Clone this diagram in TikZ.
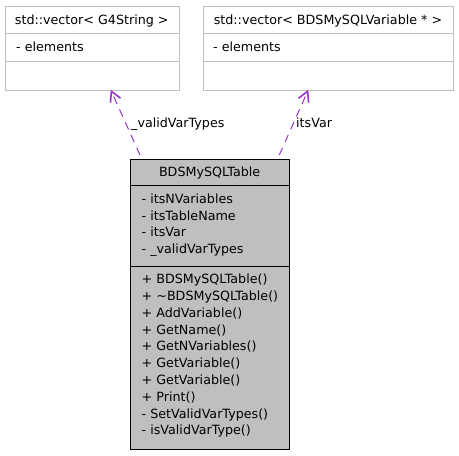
\documentclass[tikz,border=0pt]{standalone}
\usepackage{fontspec}
\setmainfont{DejaVu Sans}
\usetikzlibrary{arrows.meta}
\definecolor{boxgray}{HTML}{BFBFBF}
\definecolor{linegray}{HTML}{BFBFBF}
\definecolor{arrowpurple}{HTML}{9A32CD}
\tikzset{
  txt/.style={font=\fontsize{12.7}{14}\selectfont, inner sep=0pt, anchor=base west},
  ctxt/.style={font=\fontsize{12.7}{14}\selectfont, inner sep=0pt, anchor=base},
  gbox/.style={draw=linegray, fill=white, line width=1.2pt},
  mbox/.style={draw=black, fill=boxgray, line width=1pt},
  assoc/.style={draw=arrowpurple, dashed, dash pattern=on 8pt off 6pt, line width=1pt,
    -{Straight Barb[length=10pt,width=11pt,line width=1.6pt]}},
}
\begin{document}
\begin{tikzpicture}[x=1pt,y=-1pt]
\useasboundingbox (0,0) rectangle (459,456);
% left top box
\node[gbox, minimum width=173.5pt, minimum height=83.5pt, anchor=north west, inner sep=0pt] (vg) at (5,6) {};
\draw[draw=linegray, line width=1.2pt] (5,33.5) -- (178.5,33.5) (5,61.5) -- (178.5,61.5);
\node[ctxt] (vgt) at (91.75,24) {std::vector< G4String >};
\node[txt] (vge) at (16,51) {- elements};
% right top box
\node[gbox, minimum width=250pt, minimum height=83.5pt, anchor=north west, inner sep=0pt] (vb) at (203,6) {};
\draw[draw=linegray, line width=1.2pt] (203,33.5) -- (453,33.5) (203,61.5) -- (453,61.5);
\node[ctxt] (vbt) at (328,24) {std::vector< BDSMySQLVariable * >};
\node[txt] (vbe) at (213,51) {- elements};
% main box
\node[mbox, minimum width=159.3pt, minimum height=290pt, anchor=north west, inner sep=0pt] (mt) at (130,159) {};
\draw[line width=1pt] (130,185.7) -- (289.3,185.7) (130,266) -- (289.3,266);
\node[ctxt] (mtt) at (209.65,176) {BDSMySQLTable};
\foreach \t [count=\i] in {- itsNVariables, - itsTableName, - itsVar, - \_validVarTypes}
  \node[txt] (a\i) at (141.5,{186.5+16.8*\i}) {\t};
\foreach \t [count=\i] in {+ BDSMySQLTable(), + \textasciitilde BDSMySQLTable(), + AddVariable(), + GetName(), + GetNVariables(), + GetVariable(), + GetVariable(), + Print(), - SetValidVarTypes(), - isValidVarType()}
  \node[txt] (m\i) at (141.5,{266.8+16.8*\i}) {\t};
% connectors
\coordinate (s1) at (140,155);
\coordinate (e1) at (110.7,89.8);
\coordinate (s2) at (279.3,155);
\coordinate (e2) at (308.3,89.8);
\draw[assoc] (s1) -- (e1);
\draw[assoc] (s2) -- (e2);
\node[txt] (l1) at (131,127) {\_validVarTypes};
\node[txt] (l2) at (296,127) {itsVar};
\end{tikzpicture}
\end{document}
